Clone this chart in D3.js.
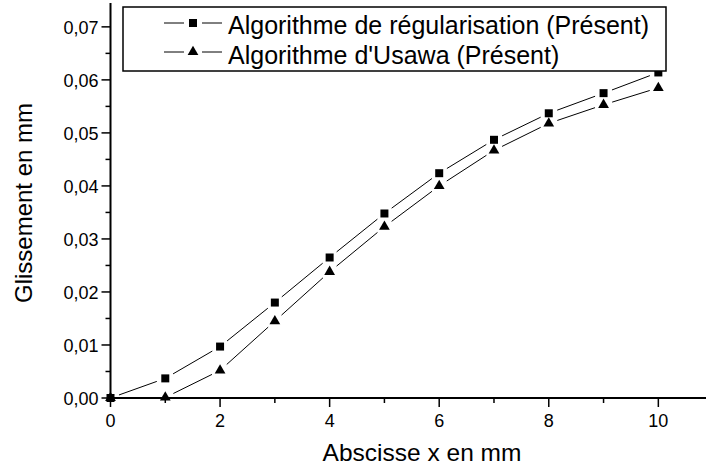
<!DOCTYPE html>
<html>
<head>
<meta charset="utf-8">
<script src="https://cdn.jsdelivr.net/npm/d3@7"></script>
<style>
  body { margin: 0; background: #fff; }
  text { font-family: "Liberation Sans", Arial, sans-serif; fill: #000; }
</style>
</head>
<body>
<svg id="chart" width="706" height="470"></svg>
<script>
const xValues = [0, 1, 2, 3, 4, 5, 6, 7, 8, 9, 10]
const regularisation = [0, 0.0037, 0.0097, 0.0180, 0.0265, 0.0348, 0.0424, 0.0487, 0.0537, 0.0575, 0.0614]
const usawa = [0, 0.0001, 0.0052, 0.0145, 0.0238, 0.0323, 0.0400, 0.0467, 0.0518, 0.0553, 0.0585]
const seriesNames = ["Algorithme de régularisation (Présent)", "Algorithme d'Usawa (Présent)"]
const xTicks = [0, 2, 4, 6, 8, 10]
const yTicks = [0, 0.01, 0.02, 0.03, 0.04, 0.05, 0.06, 0.07]

const svg = d3.select("#chart")
const x = d3.scaleLinear().domain([0, 10.87]).range([110.5, 706])
const y = d3.scaleLinear().domain([0, 0.0745]).range([398, 3])
const fmt = d => d3.format(".2f")(d).replace(".", ",")

// y axis
const yAxis = svg.append("g").attr("transform", "translate(110.5,0)")
yAxis.append("line").attr("y1", y(0)).attr("y2", y.range()[1]).attr("stroke", "#000").attr("stroke-width", 2)
yAxis.selectAll(".minor").data(d3.range(0.005, 0.0745, 0.01)).enter().append("line")
  .attr("x1", -5).attr("x2", 0).attr("y1", d => y(d)).attr("y2", d => y(d))
  .attr("stroke", "#000").attr("stroke-width", 1.5)
yAxis.selectAll(".major").data(yTicks).enter().append("line")
  .attr("x1", -9).attr("x2", 0).attr("y1", d => y(d)).attr("y2", d => y(d))
  .attr("stroke", "#000").attr("stroke-width", 1.5)
yAxis.selectAll(".lbl").data(yTicks).enter().append("text")
  .attr("x", -12).attr("y", d => y(d)).attr("dy", "0.4em")
  .attr("text-anchor", "end").attr("font-size", 18).text(fmt)

// x axis
const xAxis = svg.append("g").attr("transform", "translate(0,398)")
xAxis.append("line").attr("x1", x(0) - 1).attr("x2", 706).attr("stroke", "#000").attr("stroke-width", 2)
xAxis.selectAll(".minor").data(d3.range(1, 11, 2)).enter().append("line")
  .attr("x1", d => x(d)).attr("x2", d => x(d)).attr("y1", 0).attr("y2", 5)
  .attr("stroke", "#000").attr("stroke-width", 1.5)
xAxis.selectAll(".major").data(xTicks).enter().append("line")
  .attr("x1", d => x(d)).attr("x2", d => x(d)).attr("y1", 0).attr("y2", 9)
  .attr("stroke", "#000").attr("stroke-width", 1.5)
xAxis.selectAll(".lbl").data(xTicks).enter().append("text")
  .attr("x", d => x(d)).attr("y", 29).attr("text-anchor", "middle").attr("font-size", 18).text(d => d)

svg.append("text").attr("x", 422).attr("y", 461).attr("text-anchor", "middle").attr("font-size", 24.5)
  .text("Abscisse x en mm")
svg.append("text").attr("transform", "translate(32,203) rotate(-90)").attr("text-anchor", "middle")
  .attr("font-size", 24).text("Glissement en mm")

// series lines with gaps around markers
const gap = 9
const drawSeries = (values, shape) => {
  const pts = values.map((v, i) => [x(xValues[i]), y(v)])
  const g = svg.append("g")
  for (let i = 0; i < pts.length - 1; i++) {
    const [x1, y1] = pts[i], [x2, y2] = pts[i + 1]
    const len = Math.hypot(x2 - x1, y2 - y1)
    const ux = (x2 - x1) / len, uy = (y2 - y1) / len
    g.append("line")
      .attr("x1", x1 + ux * gap).attr("y1", y1 + uy * gap)
      .attr("x2", x2 - ux * gap).attr("y2", y2 - uy * gap)
      .attr("stroke", "#000").attr("stroke-width", 1)
  }
  g.selectAll("path").data(pts).enter().append("path")
    .attr("transform", d => `translate(${d[0]},${d[1]})`)
    .attr("d", d3.symbol().type(shape).size(shape === d3.symbolSquare ? 64 : 50))
    .attr("fill", "#000")
}
drawSeries(regularisation, d3.symbolSquare)
drawSeries(usawa, d3.symbolTriangle)

// legend
const legend = svg.append("g")
legend.append("rect").attr("x", 123).attr("y", 7).attr("width", 543).attr("height", 64)
  .attr("fill", "#fff").attr("stroke", "#000").attr("stroke-width", 1.5)
const shapes = [d3.symbolSquare, d3.symbolTriangle]
seriesNames.forEach((name, i) => {
  const cy = 23 + i * 29
  legend.append("line").attr("x1", 164).attr("x2", 184).attr("y1", cy).attr("y2", cy).attr("stroke", "#000")
  legend.append("line").attr("x1", 202).attr("x2", 222).attr("y1", cy).attr("y2", cy).attr("stroke", "#000")
  legend.append("path").attr("transform", `translate(193,${cy})`)
    .attr("d", d3.symbol().type(shapes[i]).size(i === 0 ? 64 : 50)).attr("fill", "#000")
  legend.append("text").attr("x", 228).attr("y", 34 + i * 30).attr("font-size", 25).text(name)
})
</script>
</body>
</html>
